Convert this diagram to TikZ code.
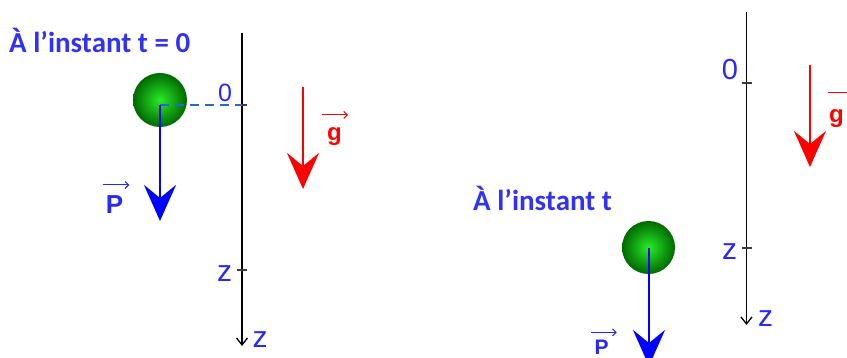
\documentclass[tikz,border=0pt]{standalone}
\usepackage{fontspec}
\setmainfont{Liberation Sans}
\newfontfamily\titlefont{Carlito}
\usetikzlibrary{arrows.meta}
\definecolor{ttlblue}{RGB}{50,50,245}
\definecolor{lblblue}{RGB}{40,40,250}
\definecolor{forceblue}{RGB}{0,0,255}
\definecolor{forcered}{RGB}{255,0,0}
\definecolor{dashblue}{RGB}{30,110,200}
\definecolor{ballin}{RGB}{40,235,40}
\definecolor{ballout}{RGB}{0,105,0}
\definecolor{tickgray}{RGB}{60,60,60}
\begin{document}
\begin{tikzpicture}[x=1pt,y=-1pt,
  title/.style={font=\titlefont\bfseries\fontsize{29}{30}\selectfont, text=ttlblue, inner sep=0pt, anchor=base west},
  lbl/.style={font=\fontsize{#1}{#1}\selectfont, text=lblblue, inner sep=0pt, anchor=base},
  vlbl/.style={font=\bfseries\fontsize{#1}{#1}\selectfont, inner sep=0pt, anchor=base},
  ball/.style={circle, minimum size=#1, inner sep=0pt, inner color=ballin, outer color=ballout},
  axis/.style={line width=1.3pt, black, -{Straight Barb[length=7pt,width=11pt,line width=1.3pt]}},
  tickmark/.style={line width=1.2pt, tickgray},
  dashline/.style={line width=1.8pt, dashblue, dash pattern=on 9pt off 6pt},
  force/.style={line width=2.8pt, -{Stealth[length=36pt,width=32pt,inset=13pt]}},
  vecarrow/.style={line width=1.1pt, -{Straight Barb[length=3.5pt,width=7pt]}},
]
\useasboundingbox (0,0) rectangle (847,358);

% ---------- left: instant t = 0 ----------
\node[title] (titleA) at (9,53) {À l’instant t = 0};
\node[ball=54pt] (ballA) at (160,100) {};
\coordinate (cA) at (160,105);
\coordinate (axAtop) at (242,33);
\coordinate (axAend) at (242,346);
\coordinate (tA0) at (242,105);
\coordinate (tA0l) at (237,105);
\coordinate (tA0r) at (247,105);
\coordinate (tAzl) at (237,270);
\coordinate (tAzr) at (247,270);
\draw[axis] (axAtop) -- (axAend);
\draw[tickmark] (tA0l) -- (tA0r);
\draw[tickmark] (tAzl) -- (tAzr);
\draw[dashline] (cA) -- (tA0);
\node[lbl=25] (zeroA) at (225,102) {0};
\node[lbl=30] (zA) at (224.5,282) {z};
\node[lbl=30] (zAend) at (260,348) {z};
\coordinate (PtipA) at (160,221);
\draw[force, forceblue] (cA) -- (PtipA);
\node[vlbl=26, text=lblblue] (PlabA) at (114.5,214) {P};
\draw[vecarrow, lblblue] ([xshift=-3pt,yshift=11pt]PlabA.north west) -- ([xshift=6pt,yshift=11pt]PlabA.north east);
\coordinate (gtopA) at (303,87);
\coordinate (gtipA) at (303,189);
\draw[force, forcered] (gtopA) -- (gtipA);
\node[vlbl=24, text=forcered] (glabA) at (334.5,141) {g};
\draw[vecarrow, forcered] ([xshift=-5pt,yshift=13pt]glabA.north west) -- ([xshift=6pt,yshift=13pt]glabA.north east);

% ---------- right: instant t ----------
\node[title] (titleB) at (473,211) {À l’instant t};
\node[ball=53pt] (ballB) at (648.5,247.5) {};
\coordinate (cB) at (649,248);
\coordinate (PtipB) at (649,366);
\draw[force, forceblue] (cB) -- (PtipB);
\node[vlbl=21, text=lblblue] (PlabB) at (601.5,355) {P};
\draw[vecarrow, lblblue] ([xshift=-3pt,yshift=8pt]PlabB.north west) -- ([xshift=8pt,yshift=8pt]PlabB.north east);
\coordinate (axBtop) at (746.5,12);
\coordinate (axBend) at (746.5,325);
\coordinate (tB0l) at (741.5,83);
\coordinate (tB0r) at (751.5,83);
\coordinate (tBzl) at (741.5,248);
\coordinate (tBzr) at (751.5,248);
\draw[axis] (axBtop) -- (axBend);
\draw[tickmark] (tB0l) -- (tB0r);
\draw[tickmark] (tBzl) -- (tBzr);
\node[lbl=29] (zeroB) at (730,80) {0};
\node[lbl=30] (zB) at (729.5,260) {z};
\node[lbl=30] (zBend) at (765.5,327) {z};
\coordinate (gtopB) at (810,65);
\coordinate (gtipB) at (810,167);
\draw[force, forcered] (gtopB) -- (gtipB);
\node[vlbl=24, text=forcered, anchor=base west] (glabB) at (829,122.5) {g};
\draw[vecarrow, forcered] ([xshift=-1pt,yshift=17pt]glabB.north west) -- ([xshift=14pt,yshift=17pt]glabB.north east);
\end{tikzpicture}
\end{document}
